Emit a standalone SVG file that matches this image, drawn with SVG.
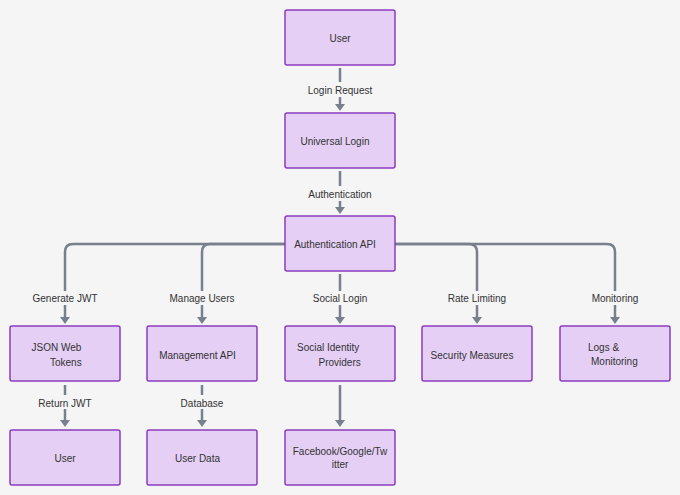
<svg xmlns="http://www.w3.org/2000/svg" width="680" height="495" viewBox="0 0 680 495">
<defs>
<marker id="arr" markerWidth="8" markerHeight="8" refX="4" refY="6" orient="auto" markerUnits="userSpaceOnUse" viewBox="0 0 8 8">
<path d="M0,0 L8,0 L4,6 Z" fill="#77808c" transform="rotate(0)"/>
</marker>
<style>
.box{fill:#e5cff5;stroke:#8a3cbf;stroke-width:1.5}
.t{font-family:"Liberation Sans",Arial,sans-serif;font-size:10px;fill:#333}
.m{text-anchor:middle}
.c{fill:none;stroke:#77808c;stroke-width:2.5}
.a{fill:#77808c}
.lbl{font-family:"Liberation Sans",Arial,sans-serif;font-size:10px;fill:#333;text-anchor:middle}
</style>
</defs>
<rect width="680" height="495" fill="#f5f5f6"/>
<g id="connectors">
<line class="c" x1="340" y1="68" x2="340" y2="82"/>
<line class="c" x1="340" y1="97" x2="340" y2="105"/>
<polygon class="a" points="335,104 345,104 340,111"/>
<text class="lbl" x="340" y="93.5">Login Request</text>

<line class="c" x1="340" y1="171" x2="340" y2="186"/>
<line class="c" x1="340" y1="201" x2="340" y2="208"/>
<polygon class="a" points="335,207 345,207 340,214"/>
<text class="lbl" x="340" y="197.5">Authentication</text>

<path class="c" d="M285,244 H73 Q65,244 65,252 V291"/>
<line class="c" x1="65" y1="305" x2="65" y2="318"/>
<polygon class="a" points="60,317 70,317 65,324"/>
<text class="lbl" x="65" y="301.5">Generate JWT</text>

<path class="c" d="M285,244 H210 Q202,244 202,252 V291"/>
<line class="c" x1="202" y1="305" x2="202" y2="318"/>
<polygon class="a" points="197,317 207,317 202,324"/>
<text class="lbl" x="202" y="301.5">Manage Users</text>

<line class="c" x1="340" y1="274" x2="340" y2="291"/>
<line class="c" x1="340" y1="305" x2="340" y2="318"/>
<polygon class="a" points="335,317 345,317 340,324"/>
<text class="lbl" x="340" y="301.5">Social Login</text>

<path class="c" d="M395,244 H469 Q477,244 477,252 V291"/>
<line class="c" x1="477" y1="305" x2="477" y2="318"/>
<polygon class="a" points="472,317 482,317 477,324"/>
<text class="lbl" x="477" y="301.5">Rate Limiting</text>

<path class="c" d="M395,244 H607 Q615,244 615,252 V291"/>
<line class="c" x1="615" y1="305" x2="615" y2="318"/>
<polygon class="a" points="610,317 620,317 615,324"/>
<text class="lbl" x="615" y="301.5">Monitoring</text>

<line class="c" x1="65" y1="385" x2="65" y2="395"/>
<line class="c" x1="65" y1="409" x2="65" y2="421"/>
<polygon class="a" points="60,420 70,420 65,427"/>
<text class="lbl" x="65" y="406.5">Return JWT</text>

<line class="c" x1="202" y1="385" x2="202" y2="395"/>
<line class="c" x1="202" y1="409" x2="202" y2="421"/>
<polygon class="a" points="197,420 207,420 202,427"/>
<text class="lbl" x="202" y="406.5">Database</text>

<line class="c" x1="340" y1="385" x2="340" y2="421"/>
<polygon class="a" points="335,420 345,420 340,427"/>
</g>
<g id="user-top"><rect class="box" x="285" y="10" width="110" height="55" rx="2"/><text class="t m" x="340" y="41.5">User</text></g>
<g id="universal-login"><rect class="box" x="285" y="113" width="110" height="55" rx="2"/><text class="t m" x="335" y="145">Universal Login</text></g>
<g id="auth-api"><rect class="box" x="285" y="216" width="110" height="55" rx="2"/><text class="t m" x="335" y="248">Authentication API</text></g>
<g id="jwt"><rect class="box" x="10" y="326" width="110" height="55" rx="2"/><text class="t" x="31.5" y="351">JSON Web</text><text class="t" x="50" y="365.5">Tokens</text></g>
<g id="mgmt-api"><rect class="box" x="147" y="326" width="110" height="55" rx="2"/><text class="t m" x="197.5" y="358.5">Management API</text></g>
<g id="social"><rect class="box" x="285" y="326" width="110" height="55" rx="2"/><text class="t" x="297" y="351">Social Identity</text><text class="t" x="318.5" y="365.5">Providers</text></g>
<g id="security"><rect class="box" x="422" y="326" width="110" height="55" rx="2"/><text class="t m" x="472" y="358.5">Security Measures</text></g>
<g id="logs"><rect class="box" x="560" y="326" width="110" height="55" rx="2"/><text class="t" x="588" y="351">Logs &amp;</text><text class="t" x="591" y="365">Monitoring</text></g>
<g id="user-bottom"><rect class="box" x="10" y="430" width="110" height="55" rx="2"/><text class="t m" x="65" y="461.5">User</text></g>
<g id="user-data"><rect class="box" x="147" y="430" width="110" height="55" rx="2"/><text class="t m" x="197.5" y="461.5">User Data</text></g>
<g id="fgt"><rect class="box" x="285" y="430" width="110" height="55" rx="2"/><text class="t m" x="340" y="454.5">Facebook/Google/Tw</text><text class="t m" x="340" y="468">itter</text></g>
</svg>
